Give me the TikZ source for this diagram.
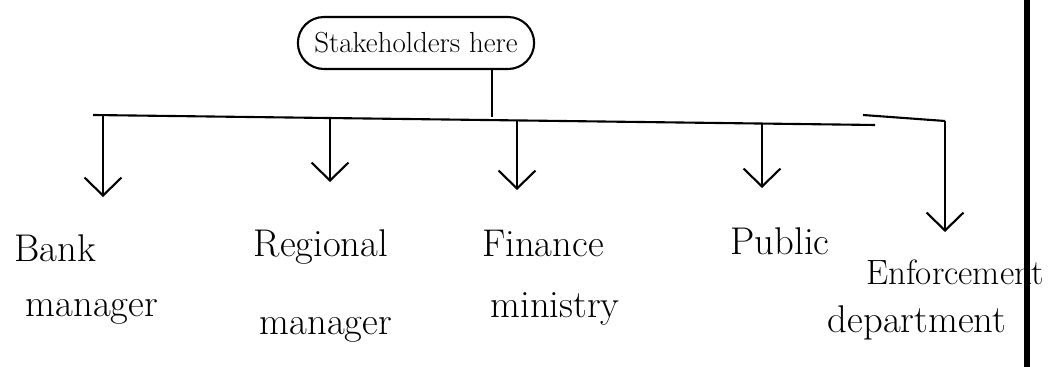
\documentclass[tikz,border=0pt]{standalone}
\usetikzlibrary{arrows.meta,shapes.misc}
\begin{document}
\begin{tikzpicture}[x=0.02cm,y=-0.02cm,
  line/.style={line width=1.2pt},
  arr/.style={line width=1.2pt,-{Straight Barb[length=3.6mm,width=7.4mm,line width=1.2pt]}},
  lbl/.style={font=\fontsize{22}{26}\selectfont, inner sep=0pt, anchor=base},
  root/.style={draw,line width=1.2pt,rounded rectangle,minimum width=4.96cm,minimum height=1.04cm,font=\fontsize{16.5}{20}\selectfont}]
\useasboundingbox (0,0) rectangle (1050,367);
% root
\node[root] (root) at (416,43) {Stakeholders here};
% stem and bus
\coordinate (j) at (492,117);
\draw[line] (root.south -| j) -- (j);
\coordinate (busL) at (93,115);
\coordinate (busR) at (875,125);
\draw[line] (busL) -- (busR);
% arrow starts on the bus
\coordinate (s1) at (103,115.1);
\coordinate (s2) at (330,118);
\coordinate (s3) at (517,120.4);
\coordinate (s4) at (762,123.6);
\coordinate (eL) at (863,115);
\coordinate (s5) at (945,121);
% arrow ends
\coordinate (t1) at (103,197);
\coordinate (t2) at (330,182);
\coordinate (t3) at (517,190);
\coordinate (t4) at (762,188);
\coordinate (t5) at (945,232);
% labels
\node[lbl] (bank) at (55,262) {Bank};
\node[lbl] (bankm) at (92,317) {manager};
\node[lbl] (reg) at (321,257) {Regional};
\node[lbl] (regm) at (326,335) {manager};
\node[lbl] (fin) at (543,257) {Finance};
\node[lbl] (finm) at (555,318) {ministry};
\node[lbl] (pub) at (780,255) {Public};
\node[lbl,font=\fontsize{20}{24}\selectfont] (enf) at (955,285) {Enforcement};
\node[lbl] (enfd) at (917,333) {department};
% arrows
\draw[arr] (s1) -- (t1);
\draw[arr] (s2) -- (t2);
\draw[arr] (s3) -- (t3);
\draw[arr] (s4) -- (t4);
\draw[line] (eL) -- (s5);
\draw[arr] (s5) -- (t5);
% page margin line
\draw[line width=3pt] (1027,0) -- (1027,367);
\end{tikzpicture}
\end{document}
